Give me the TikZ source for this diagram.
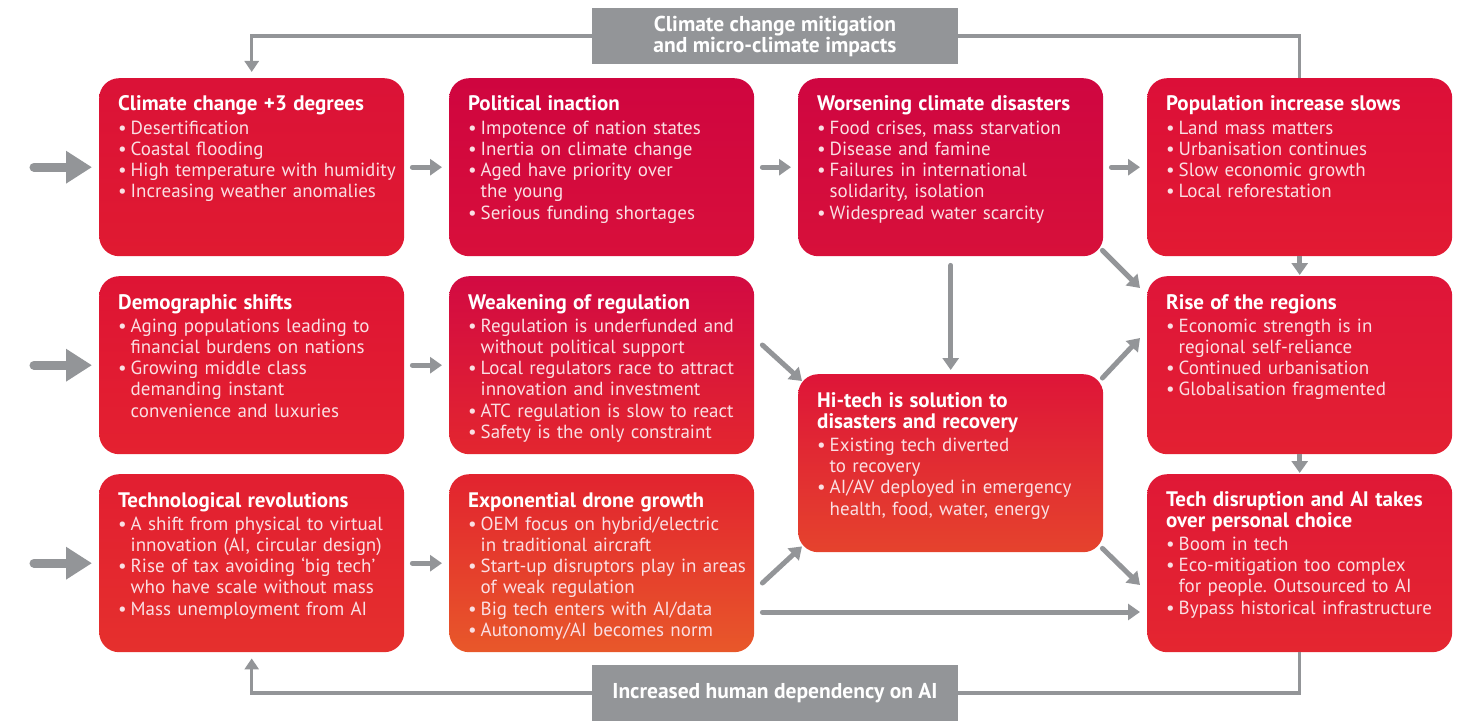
\documentclass[tikz,border=0pt]{standalone}
\usepackage{fontspec}
\setmainfont{PT Sans}
\usetikzlibrary{arrows.meta,calc}
\frenchspacing
\definecolor{agray}{HTML}{939598}
\definecolor{bultxt}{HTML}{FADFE3}
\definecolor{ca1}{HTML}{DB1237}\definecolor{cb1}{HTML}{E01A31}
\definecolor{ca2}{HTML}{CF053F}\definecolor{cb2}{HTML}{D80F3B}
\definecolor{ca3}{HTML}{CF0641}\definecolor{cb3}{HTML}{D7103A}
\definecolor{ca4}{HTML}{DC0F38}\definecolor{cb4}{HTML}{E21A33}
\definecolor{ca5}{HTML}{DE1434}\definecolor{cb5}{HTML}{E42130}
\definecolor{ca6}{HTML}{D20A42}\definecolor{cb6}{HTML}{E3262F}
\definecolor{ca7}{HTML}{DE1538}\definecolor{cb7}{HTML}{E5432D}
\definecolor{ca8}{HTML}{DF1539}\definecolor{cb8}{HTML}{E32032}
\definecolor{ca9}{HTML}{E21E31}\definecolor{cb9}{HTML}{E5302D}
\definecolor{caa}{HTML}{E2232F}\definecolor{cba}{HTML}{E8582A}
\definecolor{cab}{HTML}{E01836}\definecolor{cbb}{HTML}{E42630}
\newcommand{\ttl}[1]{{\fontsize{21bp}{21.2bp}\selectfont\bfseries\color{white}#1}}
\newcommand{\bu}{\makebox[12.5bp][l]{\textbullet}}
\newcommand{\ct}{\hspace*{12.5bp}}
\tikzset{
 x=1bp,y=-1bp,
 box/.style={rounded corners=20bp, minimum width=305bp, minimum height=178bp, inner sep=0pt, anchor=north west, draw=none},
 boxtext/.style={anchor=base west, text width=300bp, align=left, inner sep=0pt, text=bultxt, font=\fontsize{19bp}{21.2bp}\selectfont},
 lab/.style={fill=agray, minimum width=366bp, minimum height=56bp, inner sep=0pt, text=white, font=\bfseries\fontsize{21.5bp}{21bp}\selectfont, align=center},
 conn/.style={draw=agray, line width=5bp, line cap=round, -{Triangle[length=12bp,width=16bp]}},
 bigin/.style={draw=agray, line width=9bp, line cap=round, -{Triangle[length=26bp,width=31bp]}},
 loopl/.style={draw=agray, line width=3.5bp},
 loopar/.style={loopl, -{Triangle[length=11bp,width=14bp]}},
}
\begin{document}
\begin{tikzpicture}
\useasboundingbox (0,0) rectangle (1461,721);
% boxes
\node[box, top color=ca1, bottom color=cb1] (b11) at (99,78) {};
\node[box, top color=ca2, bottom color=cb2] (b12) at (449,78) {};
\node[box, top color=ca3, bottom color=cb3] (b13) at (798,78) {};
\node[box, top color=ca4, bottom color=cb4] (b14) at (1147,78) {};
\node[box, top color=ca5, bottom color=cb5] (b21) at (99,276) {};
\node[box, top color=ca6, bottom color=cb6] (b22) at (449,276) {};
\node[box, top color=ca7, bottom color=cb7] (ht) at (798,374) {};
\node[box, top color=ca8, bottom color=cb8] (b24) at (1147,276) {};
\node[box, top color=ca9, bottom color=cb9] (b31) at (99,474) {};
\node[box, top color=caa, bottom color=cba] (b32) at (449,474) {};
\node[box, top color=cab, bottom color=cbb] (b34) at (1147,474) {};
% texts
\node[boxtext] (t11) at ($(b11.north west)+(19,33)$) {\ttl{Climate change +3 degrees}\\[2bp]
\bu Desertification\\
\bu Coastal flooding\\
\bu High temperature with humidity\\
\bu Increasing weather anomalies};
\node[boxtext] (t12) at ($(b12.north west)+(19,33)$) {\ttl{Political inaction}\\[2bp]
\bu Impotence of nation states\\
\bu Inertia on climate change\\
\bu Aged have priority over\\
\ct the young\\
\bu Serious funding shortages};
\node[boxtext] (t13) at ($(b13.north west)+(19,33)$) {\ttl{Worsening climate disasters}\\[2bp]
\bu Food crises, mass starvation\\
\bu Disease and famine\\
\bu Failures in international\\
\ct solidarity, isolation\\
\bu Widespread water scarcity};
\node[boxtext] (t14) at ($(b14.north west)+(19,33)$) {\ttl{Population increase slows}\\[2bp]
\bu Land mass matters\\
\bu Urbanisation continues\\
\bu Slow economic growth\\
\bu Local reforestation};
\node[boxtext] (t21) at ($(b21.north west)+(19,33)$) {\ttl{Demographic shifts}\\[2bp]
\bu Aging populations leading to\\
\ct financial burdens on nations\\
\bu Growing middle class\\
\ct demanding instant\\
\ct convenience and luxuries};
\node[boxtext] (t22) at ($(b22.north west)+(19,33)$) {\ttl{Weakening of regulation}\\[2bp]
\bu Regulation is underfunded and\\
\ct without political support\\
\bu Local regulators race to attract\\
\ct innovation and investment\\
\bu ATC regulation is slow to react\\
\bu Safety is the only constraint};
\node[boxtext] (tht) at ($(ht.north west)+(19,33)$) {\ttl{Hi-tech is solution to}\\
\ttl{disasters and recovery}\\[2bp]
\bu Existing tech diverted\\
\ct to recovery\\
\bu AI/AV deployed in emergency\\
\ct health, food, water, energy};
\node[boxtext] (t24) at ($(b24.north west)+(19,33)$) {\ttl{Rise of the regions}\\[2bp]
\bu Economic strength is in\\
\ct regional self-reliance\\
\bu Continued urbanisation\\
\bu Globalisation fragmented};
\node[boxtext] (t31) at ($(b31.north west)+(19,33)$) {\ttl{Technological revolutions}\\[2bp]
\bu A shift from physical to virtual\\
\ct innovation (AI, circular design)\\
\bu Rise of tax avoiding ‘big tech’\\
\ct who have scale without mass\\
\bu Mass unemployment from AI};
\node[boxtext] (t32) at ($(b32.north west)+(19,33)$) {\ttl{Exponential drone growth}\\[2bp]
\bu OEM focus on hybrid/electric\\
\ct in traditional aircraft\\
\bu Start-up disruptors play in areas\\
\ct of weak regulation\\
\bu Big tech enters with AI/data\\
\bu Autonomy/AI becomes norm};
\node[boxtext] (t34) at ($(b34.north west)+(19,32)$) {\ttl{Tech disruption and AI takes}\\
\ttl{over personal choice}\\[2bp]
\bu Boom in tech\\
\bu Eco-mitigation too complex\\
\ct for people. Outsourced to AI\\
\bu Bypass historical infrastructure};
% labels
\node[lab] (tl) at (775,36) {Climate change mitigation\\and micro-climate impacts};
\node[lab] (bl) at (775,693) {Increased human dependency on AI};
% input arrows
\draw[bigin] ([xshift=-65bp]b11.west) -- ([xshift=-7bp]b11.west);
\draw[bigin] ([xshift=-65bp]b21.west) -- ([xshift=-7bp]b21.west);
\draw[bigin] ([xshift=-65bp]b31.west) -- ([xshift=-7bp]b31.west);
% horizontal connectors
\draw[conn] ([xshift=8bp]b11.east) -- ([xshift=-7bp]b12.west);
\draw[conn] ([xshift=8bp]b12.east) -- ([xshift=-7bp]b13.west);
\draw[conn] ([xshift=8bp]b13.east) -- ([xshift=-7bp]b14.west);
\draw[conn] ([xshift=8bp]b21.east) -- ([xshift=-7bp]b22.west);
\draw[conn] ([xshift=8bp]b31.east) -- ([xshift=-7bp]b32.west);
% vertical connectors
\draw[conn] ([yshift=-9bp]b13.south) -- ([yshift=4bp]ht.north);
\draw[conn, line cap=butt] (b14.south) -- ([yshift=1bp]b24.north);
\draw[conn, line cap=butt] (b24.south) -- ([yshift=1bp]b34.north);
% diagonal connectors
\draw[conn] ($(b22.north east)+(8,69)$) -- ($(ht.north west)+(4,7)$);
\draw[conn] ($(b32.north east)+(8,109)$) -- ($(ht.south west)+(4,-6)$);
\draw[conn] ($(b13.south east)+(-1,-6)$) -- ($(b24.north west)+(-7,12)$);
\draw[conn] ($(ht.north east)+(-1,4)$) -- ($(b24.north west)+(-7,62)$);
\draw[conn] ($(ht.south east)+(-1,-4)$) -- ($(b34.north west)+(-7,111)$);
\draw[conn] ($(b32.north east)+(8,138)$) -- ($(b34.north west)+(-7,138)$);
% loops
\draw[loopar] (tl.west) -| ([yshift=6bp]b11.north);
\draw[loopl] (tl.east) -| (b14.north);
\draw[loopl] (b34.south) |- (bl.east);
\draw[loopar] (bl.west) -| ([yshift=-6bp]b31.south);
\end{tikzpicture}
\end{document}
